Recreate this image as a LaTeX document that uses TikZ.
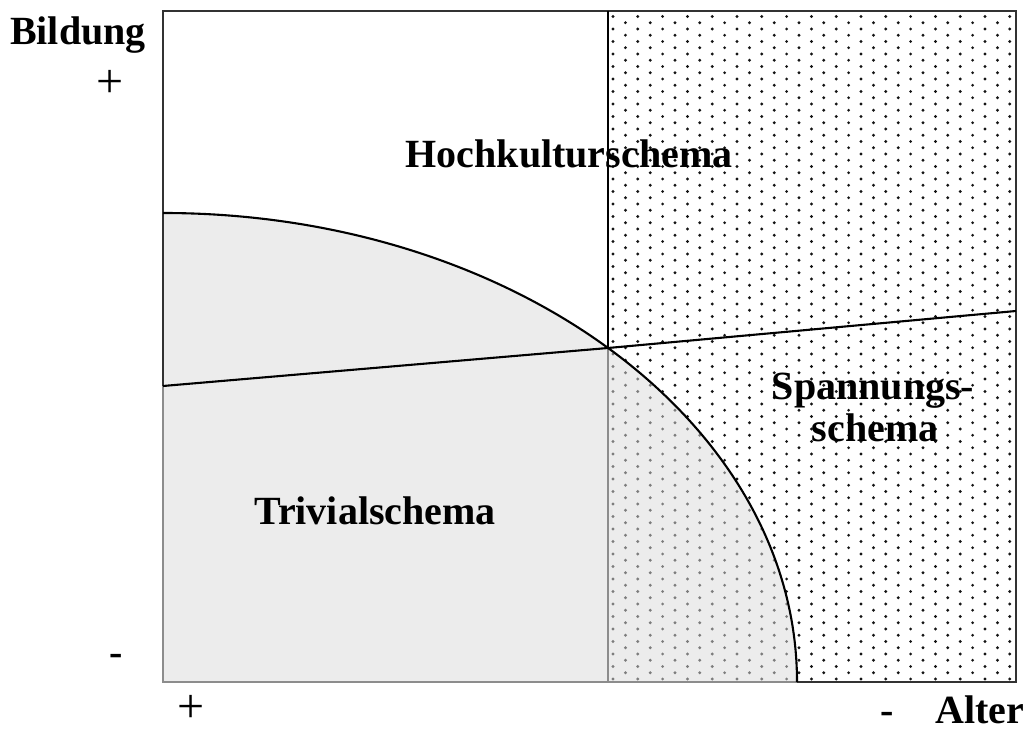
\documentclass[tikz,border=0pt]{standalone}
\usepackage{fontspec}
\setmainfont{Liberation Serif}
\begin{document}
\begin{tikzpicture}[x=1pt,y=1pt,
  lbl/.style={font=\fontsize{40}{42}\selectfont\bfseries, inner sep=0pt, anchor=base},
  sgn/.style={font=\fontsize{48}{50}\selectfont, inner sep=0pt},
  framecol/.style={draw={rgb,255:red,50;green,50;blue,50}, line width=2.6pt},
  softline/.style={draw={rgb,255:red,140;green,140;blue,140}, line width=2.2pt},
  hardline/.style={draw=black, line width=2.1pt}]
\definecolor{fillgray}{RGB}{236,236,236}
\definecolor{dotgray}{RGB}{125,125,125}
\definecolor{dotdark}{RGB}{20,20,20}
\useasboundingbox (0,0) rectangle (1028,731);

% corner points of the field
\coordinate (BL) at (163,49);
\coordinate (TR) at (1016,720);
\coordinate (MidB) at (608,49);
\coordinate (MidT) at (608,720);
\coordinate (Cross) at (608,383);
\coordinate (DiagL) at (163,345);
\coordinate (DiagR) at (1016,420);
\coordinate (ArcTop) at (163,518);
\coordinate (ArcEnd) at (797,49);

% staggered dot grid
\newcommand{\dotgrid}[1]{%
  \foreach \i in {0,...,33}{%
    \foreach \j in {0,...,55}{%
      \fill[#1] ({613+12.4*\i},{52+12.5*\j+6.25*mod(\i,2)}) circle[radius=1.6];
    }%
  }%
}

% dotted right half
\begin{scope}
  \clip (MidB) rectangle (TR);
  \dotgrid{dotdark}
\end{scope}

% grey quarter ellipse (Trivialschema)
\fill[fillgray] (BL) -- (ArcTop) arc[start angle=90, end angle=0, x radius=634, y radius=469] -- cycle;

% grey dots where the ellipse overlaps the dotted half
\begin{scope}
  \clip (BL) -- (ArcTop) arc[start angle=90, end angle=0, x radius=634, y radius=469] -- cycle;
  \clip (MidB) rectangle (TR);
  \dotgrid{dotgray}
\end{scope}

% frame
\draw[framecol] (BL) rectangle (TR);
\draw[softline] (DiagL) -- (BL) -- (ArcEnd);
\draw[softline] (MidB) -- (Cross);

% dividing lines
\draw[hardline] (MidT) -- (Cross);
\draw[hardline] (ArcTop) arc[start angle=90, end angle=0, x radius=634, y radius=469];
\draw[hardline] (DiagL) -- (Cross) -- (DiagR);

% field labels
\node[lbl] (hoch) at (569,563) {Hochkulturschema};
\node[lbl] (spann1) at (873,331) {Spannungs-};
\node[lbl] (spann2) at (875,289) {schema};
\node[lbl] (triv) at (375,206) {Trivialschema};

% axis labels
\node[lbl] (bildung) at (78,686) {Bildung};
\node[sgn] (bplus) at (110,647) {+};
\node[lbl] (bminus) at (116,66) {-};
\node[sgn] (aplus) at (191,22) {+};
\node[lbl] (aminus) at (887,8) {-};
\node[lbl] (alter) at (980,8) {Alter};
\end{tikzpicture}
\end{document}
